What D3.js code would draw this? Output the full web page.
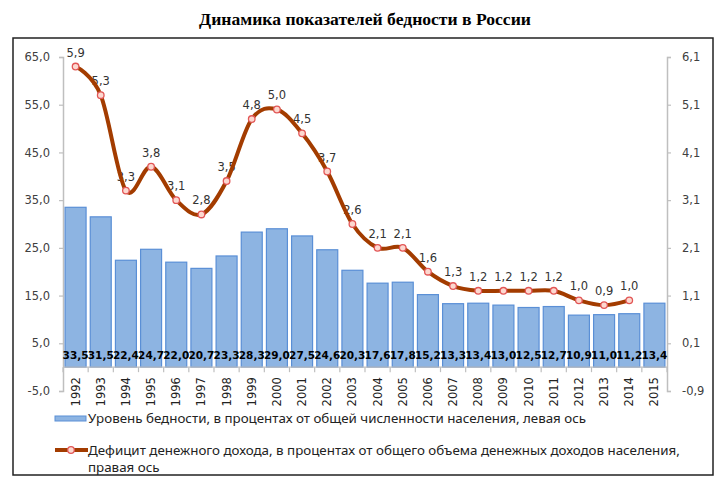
<!DOCTYPE html>
<html>
<head>
<meta charset="utf-8">
<script src="https://cdn.jsdelivr.net/npm/d3@7"></script>
<style>
  html, body { margin: 0; padding: 0; background: #fff; }
  svg { display: block; }
</style>
</head>
<body>
<svg id="chart" width="727" height="484"></svg>
<script>
const years = ["1992","1993","1994","1995","1996","1997","1998","1999","2000","2001","2002","2003","2004","2005","2006","2007","2008","2009","2010","2011","2012","2013","2014","2015"];
const povertyLevel = [33.5,31.5,22.4,24.7,22.0,20.7,23.3,28.3,29.0,27.5,24.6,20.3,17.6,17.8,15.2,13.3,13.4,13.0,12.5,12.7,10.9,11.0,11.2,13.4];
const incomeDeficit = [5.9,5.3,3.3,3.8,3.1,2.8,3.5,4.8,5.0,4.5,3.7,2.6,2.1,2.1,1.6,1.3,1.2,1.2,1.2,1.2,1.0,0.9,1.0];
const leftTicks = [-5,5,15,25,35,45,55,65];
const rightTicks = [-0.9,0.1,1.1,2.1,3.1,4.1,5.1,6.1];
const titleText = "Динамика показателей бедности в России";
const legendBar = "Уровень бедности, в процентах от общей численности населения, левая ось";
const legendLine1 = "Дефицит денежного дохода, в процентах от общего объема денежных доходов населения,";
const legendLine2 = "правая ось";

const svg = d3.select("#chart");
const fmt = v => d3.format(".1f")(v).replace(".", ",").replace("−", "-");

const x0 = 63, x1 = 667, yTop = 57, yBot = 391;
const x = d3.scaleBand().domain(years).range([x0, x1]).paddingInner(0.166).paddingOuter(0.083);
const yL = d3.scaleLinear().domain([-5, 65]).range([yBot, yTop]);
const yR = d3.scaleLinear().domain([-0.9, 6.1]).range([yBot, yTop]);

// frame
svg.append("rect").attr("x", 13).attr("y", 38).attr("width", 700).attr("height", 437)
  .attr("fill", "#fff").attr("stroke", "#222").attr("stroke-width", 1.5);

// title
svg.append("text").attr("x", 365).attr("y", 25).attr("text-anchor", "middle")
  .attr("font-family", "Liberation Serif").attr("font-weight", "bold").attr("font-size", 17.6)
  .attr("fill", "#000").text(titleText);

const axisColor = "#bfbfbf";
const tickFont = "DejaVu Sans";

// left axis
const gL = svg.append("g").attr("transform", `translate(${x0},0)`)
  .call(d3.axisLeft(yL).tickValues(leftTicks).tickFormat(fmt).tickSizeOuter(0).tickSize(4).tickPadding(9));
gL.select(".domain").attr("stroke", axisColor).attr("stroke-width", 1.5);
gL.selectAll(".tick line").attr("stroke", axisColor).attr("stroke-width", 1.2);
gL.selectAll(".tick text").attr("font-family", tickFont).attr("font-size", 11.5).attr("fill", "#404040");

// right axis
const gR = svg.append("g").attr("transform", `translate(${x1},0)`)
  .call(d3.axisRight(yR).tickValues(rightTicks).tickFormat(fmt).tickSizeOuter(0).tickSize(4).tickPadding(11));
gR.select(".domain").attr("stroke", axisColor).attr("stroke-width", 1.5);
gR.selectAll(".tick line").attr("stroke", axisColor).attr("stroke-width", 1.2);
gR.selectAll(".tick text").attr("font-family", tickFont).attr("font-size", 11.5).attr("fill", "#404040");

// bars
svg.append("g").selectAll("rect").data(povertyLevel).join("rect")
  .attr("x", (d, i) => x(years[i]))
  .attr("y", d => yL(d))
  .attr("width", x.bandwidth())
  .attr("height", d => yL(0) - yL(d))
  .attr("fill", "#8db4e2").attr("stroke", "#5a8fd6").attr("stroke-width", 1.2);

// x axis at zero
const y0 = yL(0);
svg.append("line").attr("x1", x0).attr("x2", x1).attr("y1", y0).attr("y2", y0)
  .attr("stroke", axisColor).attr("stroke-width", 1.2);
const boundaries = d3.range(years.length + 1).map(i => x0 + i * (x1 - x0) / years.length);
svg.append("g").selectAll("line").data(boundaries).join("line")
  .attr("x1", d => d).attr("x2", d => d).attr("y1", y0).attr("y2", y0 + 5)
  .attr("stroke", axisColor).attr("stroke-width", 1.2);

// year labels
svg.append("g").selectAll("text").data(years).join("text")
  .attr("transform", d => `translate(${x(d) + x.bandwidth() / 2},${y0 + 10}) rotate(-90)`)
  .attr("text-anchor", "end").attr("dy", "0.35em")
  .attr("font-family", tickFont).attr("font-size", 11.5).attr("fill", "#222")
  .text(d => d);

// bar value labels
svg.append("g").selectAll("text").data(povertyLevel).join("text")
  .attr("x", (d, i) => x(years[i]) + x.bandwidth() / 2)
  .attr("y", 359)
  .attr("text-anchor", "middle")
  .attr("font-family", tickFont).attr("font-weight", "bold").attr("font-size", 10.5).attr("fill", "#000")
  .text(d => fmt(d));

// line labels (drawn beneath the line)
const pts = incomeDeficit.map((v, i) => [x(years[i]) + x.bandwidth() / 2, yR(v)]);
svg.append("g").selectAll("text").data(incomeDeficit).join("text")
  .attr("x", (d, i) => pts[i][0]).attr("y", (d, i) => pts[i][1] - 10)
  .attr("text-anchor", "middle")
  .attr("font-family", tickFont).attr("font-size", 11.5).attr("fill", "#333")
  .text(d => fmt(d));

// line
svg.append("path").datum(pts)
  .attr("d", d3.line().curve(d3.curveCardinal.tension(0)))
  .attr("fill", "none").attr("stroke", "#a33c00").attr("stroke-width", 4).attr("stroke-linejoin", "round");
svg.append("g").selectAll("circle").data(pts).join("circle")
  .attr("cx", d => d[0]).attr("cy", d => d[1]).attr("r", 3.3)
  .attr("fill", "#fcd8d0").attr("stroke", "#e25656").attr("stroke-width", 1.3);

// legend
const legFont = "Noto Sans";
const legSize = 13.35;
svg.append("rect").attr("x", 55).attr("y", 416).attr("width", 31).attr("height", 5)
  .attr("fill", "#8db4e2").attr("stroke", "#5a8fd6").attr("stroke-width", 1);
svg.append("text").attr("x", 88).attr("y", 423).attr("font-family", legFont).attr("font-size", legSize)
  .attr("fill", "#222").text(legendBar);
svg.append("line").attr("x1", 55).attr("x2", 88).attr("y1", 450).attr("y2", 450)
  .attr("stroke", "#a33c00").attr("stroke-width", 4);
svg.append("circle").attr("cx", 71).attr("cy", 450).attr("r", 3.3)
  .attr("fill", "#fcd8d0").attr("stroke", "#e25656").attr("stroke-width", 1.3);
svg.append("text").attr("x", 88).attr("y", 455).attr("font-family", legFont).attr("font-size", legSize)
  .attr("fill", "#222").text(legendLine1);
svg.append("text").attr("x", 88).attr("y", 472).attr("font-family", legFont).attr("font-size", legSize)
  .attr("fill", "#222").text(legendLine2);
</script>
</body>
</html>
